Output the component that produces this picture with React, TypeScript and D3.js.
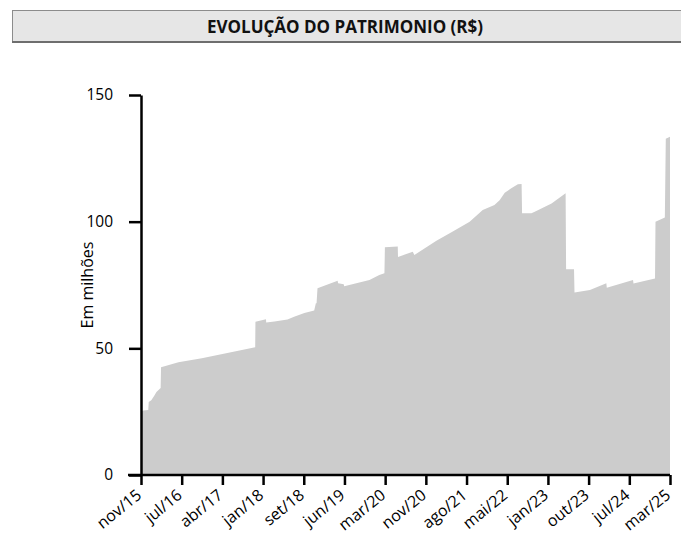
import React, { useEffect, useRef } from "react";
import * as d3 from "d3";

// mes = meses desde nov/15 (fracionado quando ha salto dentro do mes)
const meses = [
	0, 0.5, 1.54, 1.64, 2.18, 2.87, 3.27, 4.16, 4.24, 7.93, 12.88, 18.53, 24.18,
	24.23, 26.46, 26.51, 28.25, 31.02, 32.41, 34.59, 36.67, 37.02, 37.17, 37.37,
	41.63, 41.73, 42.92, 43.02, 48.37, 50.45, 51.54, 51.64, 54.36, 54.41, 57.54,
	57.88, 62.54, 66.01, 69.58, 72.35, 74.83, 75.92, 77.01, 78.4, 79.79, 80.58,
	80.68, 82.66, 83.36, 86.92, 89.9, 90.0, 91.68, 91.78, 95.05, 98.52, 98.62,
	104.17, 104.27, 108.83, 108.93, 110.91, 111.11, 112,
];
const valores = [
	25.0, 25.5, 25.7, 28.8, 29.5, 31.5, 32.8, 34.3, 42.5, 44.5, 46.1, 48.3, 50.4,
	60.5, 61.5, 60.2, 60.6, 61.4, 62.5, 63.9, 64.9, 67.8, 67.8, 73.7, 76.7, 75.7,
	75.3, 74.5, 77.0, 78.9, 79.6, 89.9, 90.2, 86.1, 88.1, 86.8, 92.5, 96.1, 100.0,
	104.6, 106.6, 108.5, 111.4, 113.2, 114.8, 114.9, 103.3, 103.3, 103.9, 107.2,
	111.2, 81.2, 81.2, 72.0, 73.0, 75.7, 73.9, 77.0, 75.6, 77.6, 100.0, 101.6,
	132.7, 133.5,
];
const rotulosX = [
	"nov/15", "jul/16", "abr/17", "jan/18", "set/18", "jun/19", "mar/20",
	"nov/20", "ago/21", "mai/22", "jan/23", "out/23", "jul/24", "mar/25",
];
const totalMeses = 112;
const yTicks = [0, 50, 100, 150];

const width = 681;
const height = 555;
const margin = { top: 95, right: 11, bottom: 80, left: 141 };
const fonte = "'Open Sans', 'Noto Sans', sans-serif";

export default function App() {
	const ref = useRef<SVGSVGElement>(null);

	useEffect(() => {
		const svg = d3.select(ref.current);
		svg.selectAll("*").remove();

		// barra do titulo
		svg
			.append("rect")
			.attr("x", 12.5)
			.attr("y", 10.5)
			.attr("width", 680)
			.attr("height", 31)
			.attr("fill", "#e6e6e6")
			.attr("stroke", "#8c8c8c")
			.attr("stroke-width", 1);
		svg
			.append("line")
			.attr("x1", 12)
			.attr("x2", 681)
			.attr("y1", 42)
			.attr("y2", 42)
			.attr("stroke", "#6e6e6e")
			.attr("stroke-width", 2);
		svg
			.append("text")
			.attr("x", 345)
			.attr("y", 33)
			.attr("text-anchor", "middle")
			.attr("font-family", fonte)
			.attr("font-weight", "bold")
			.attr("font-size", 17)
			.attr("fill", "#111")
			.text("EVOLUÇÃO DO PATRIMONIO (R$)");

		const x = d3
			.scaleLinear()
			.domain([0, totalMeses])
			.range([margin.left, width - margin.right]);
		const y = d3
			.scaleLinear()
			.domain([0, 150])
			.range([height - margin.bottom, margin.top]);

		const dados = meses.map((m, i) => ({ m, v: valores[i] }));
		const area = d3
			.area<{ m: number; v: number }>()
			.x((d) => x(d.m))
			.y0(y(0))
			.y1((d) => y(d.v));

		svg.append("path").datum(dados).attr("d", area).attr("fill", "#cccccc");

		// ticks igualmente espacados, um rotulo por tick
		const passo = totalMeses / (rotulosX.length - 1);
		const ticksX = rotulosX.map((_, i) => i * passo);

		const xAxis = (g) => {
			g.attr("transform", `translate(0,${y(0)})`)
				.call(
					d3
						.axisBottom(x)
						.tickValues(ticksX)
						.tickSize(10)
						.tickSizeOuter(0)
						.tickFormat((d, i) => rotulosX[i])
				)
				.call((g) => g.select(".domain").attr("stroke-width", 2.5).attr("d", `M${margin.left - 13},0H${x(totalMeses)}`))
				.call((g) => g.selectAll(".tick line").attr("stroke-width", 2.5))
				.selectAll(".tick text")
				.attr("font-family", fonte)
				.attr("font-size", 16)
				.attr("fill", "#000")
				.attr("text-anchor", "end")
				.attr("x", 0)
				.attr("y", 0)
				.attr("dy", 0)
				.attr("transform", "translate(1,22) rotate(-39)");
		};
		const yAxis = (g) => {
			g.attr("transform", `translate(${margin.left},0)`)
				.call(d3.axisLeft(y).tickValues(yTicks).tickSize(12).tickPadding(16).tickSizeOuter(0))
				.call((g) => g.select(".domain").attr("stroke-width", 2.5))
				.call((g) => g.selectAll(".tick line").attr("stroke-width", 2.5))
				.selectAll(".tick text")
				.attr("font-family", fonte)
				.attr("font-size", 15.5)
				.attr("fill", "#000");
		};
		svg.append("g").call(xAxis);
		svg.append("g").call(yAxis);

		svg
			.append("text")
			.attr("transform", `translate(93,${(y(0) + y(150)) / 2}) rotate(-90)`)
			.attr("text-anchor", "middle")
			.attr("font-family", fonte)
			.attr("font-size", 16)
			.attr("fill", "#000")
			.text("Em milhões");
	}, []);

	return (
		<svg
			ref={ref}
			width={width}
			height={height}
			style={{ position: "absolute", top: 0, left: 0, background: "#fff" }}
		/>
	);
}
